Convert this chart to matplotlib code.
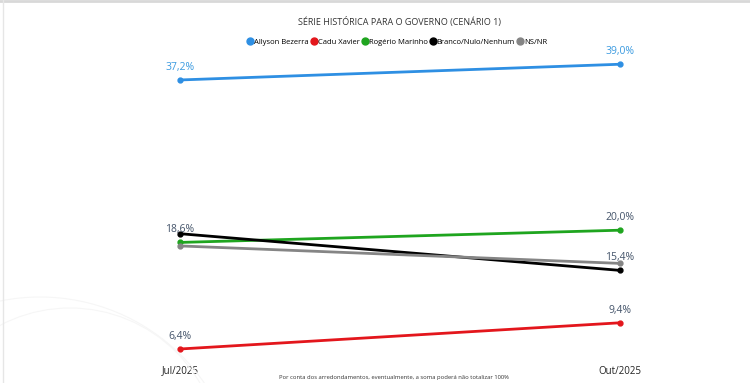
import numpy as np
import matplotlib.pyplot as plt
from matplotlib.lines import Line2D
from matplotlib.patches import Ellipse

plt.rcParams['font.family'] = ['Open Sans', 'DejaVu Sans']

periods = ["Jul/2025", "Out/2025"]
candidates = ["Allyson Bezerra", "Cadu Xavier", "Rogério Marinho",
              "Branco/Nulo/Nenhum", "NS/NR"]
allyson = [37.2, 39.0]
cadu = [6.4, 9.4]
rogerio = [18.6, 20.0]
branco = [19.6, 15.4]
nsnr = [18.2, 16.2]
# which points carry a visible value label (as in the original)
shown = [[True, True], [True, True], [True, True], [False, True], [False, False]]

series = [allyson, cadu, rogerio, branco, nsnr]
colors = ["#2E8FE3", "#E3161C", "#1FA51F", "#000000", "#858585"]
label_colors = ["#3A9AE0", "#44546A", "#44546A", "#44546A", "#44546A"]

fig = plt.figure(figsize=(7.5, 3.83), dpi=100)

# faint decorative arcs, bottom left (pixel centre/radius, y from bottom)
for cx, cy, r in [(40, -114, 200), (70, -75, 150)]:
    fig.patches.append(Ellipse((cx / 750, cy / 383), 2 * r / 750, 2 * r / 383,
                               transform=fig.transFigure, fill=False,
                               ec="#f6f6f6", lw=0.8))
# thin frame pieces at top and left
fig.add_artist(Line2D([0, 1], [0.997, 0.997], transform=fig.transFigure, color="#d8d8d8", lw=2))
fig.add_artist(Line2D([0.004, 0.004], [0, 1], transform=fig.transFigure, color="#e6e6e6", lw=1))

ax = fig.add_axes([0, 23 / 383, 1, 310 / 383])
x = np.arange(len(periods))
for vals, c, lc, sh in zip(series, colors, label_colors, shown):
    ax.plot(x, vals, color=c, lw=2.0, marker="o", ms=3.5, solid_capstyle="round")
    for xi, v, s in zip(x, vals, sh):
        if s:
            ax.annotate(f"{v:.1f}".replace(".", ",") + "%", (xi, v), xytext=(0, 9),
                        textcoords="offset points", ha="center", va="center",
                        fontsize=7.5, color=lc)

ax.set_xlim(-180 / 440, 570 / 440)
ax.set_ylim(5.14, 40.63)
ax.set_xticks(x)
ax.set_xticklabels(periods, fontsize=7, color="#222222")
ax.tick_params(axis="x", length=0, pad=4)
ax.set_yticks([])
for s in ax.spines.values():
    s.set_visible(False)
ax.patch.set_alpha(0)

fig.text(400 / 750, 1 - 22 / 383, "SÉRIE HISTÓRICA PARA O GOVERNO (CENÁRIO 1)",
         ha="center", va="center", fontsize=6.5, color="#333333")

handles = [Line2D([], [], ls="none", marker="o", ms=5, color=c) for c in colors]
fig.legend(handles, candidates, loc="center", bbox_to_anchor=(0.53, 1 - 42 / 383),
           ncol=5, frameon=False, fontsize=5.5, handlelength=0.6, handletextpad=0.2,
           columnspacing=0.4)

fig.text(394 / 750, 1 - 377 / 383,
         "Por conta dos arredondamentos, eventualmente, a soma poderá não totalizar 100%",
         ha="center", va="center", fontsize=4.2, color="#333333")

fig.savefig("out.png", dpi=100, facecolor="white")
